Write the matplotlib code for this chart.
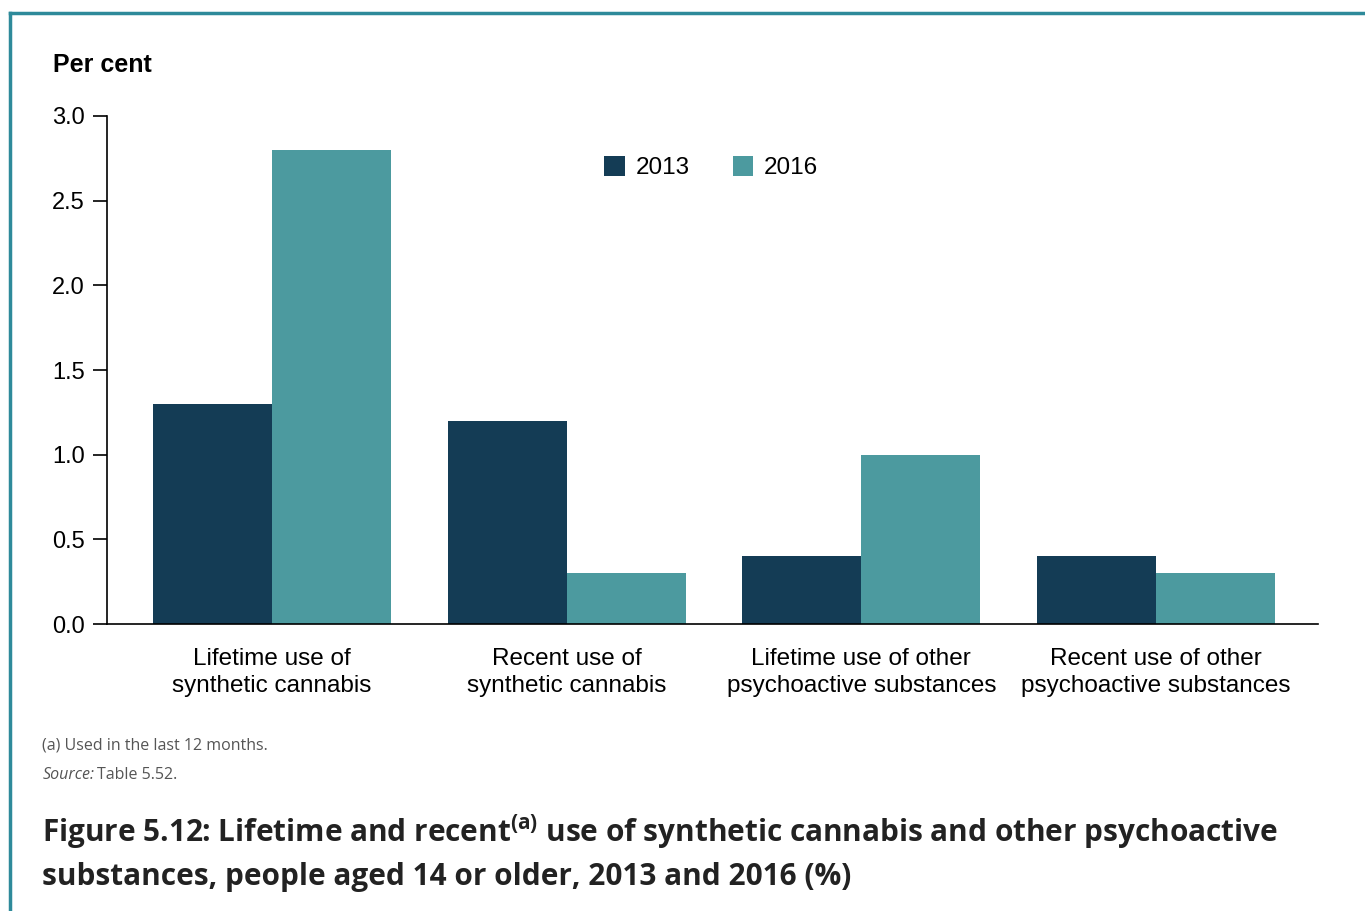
import numpy as np
import matplotlib.pyplot as plt

categories = ['Lifetime use of\nsynthetic cannabis', 'Recent use of\nsynthetic cannabis',
              'Lifetime use of other\npsychoactive substances', 'Recent use of other\npsychoactive substances']
years = ['2013', '2016']
values_2013 = [1.3, 1.2, 0.4, 0.4]
values_2016 = [2.8, 0.3, 1.0, 0.3]
yticks = [0.0, 0.5, 1.0, 1.5, 2.0, 2.5, 3.0]

dark = '#143C55'
teal = '#4C9A9F'

plt.rcParams['font.family'] = ['Liberation Sans', 'DejaVu Sans']

fig = plt.figure(figsize=(13.65, 9.11), dpi=100)
ax = fig.add_axes([0.0784, 0.315, 0.8872, 0.5577])

x = np.arange(len(categories))
w = 0.404
ax.bar(x - w / 2, values_2013, w, color=dark, label=years[0])
ax.bar(x + w / 2, values_2016, w, color=teal, label=years[1])

ax.set_xlim(-0.56, 3.55)
ax.set_ylim(0, 3.0)
ax.set_yticks(yticks)
ax.set_yticklabels(['%.1f' % v for v in yticks], fontsize=17)
ax.set_xticks(x)
ax.set_xticklabels(categories, fontsize=17.5, linespacing=1.3)
ax.tick_params(axis='x', length=0, pad=17)
ax.tick_params(axis='y', length=10, width=1.2, pad=6)
for s in ['top', 'right']:
    ax.spines[s].set_visible(False)
ax.spines['left'].set_linewidth(1.2)
ax.spines['bottom'].set_linewidth(1.2)

ax.legend(loc='center', bbox_to_anchor=(0.499, 0.898), ncol=2, frameon=False,
          fontsize=17.5, handlelength=0.85, handleheight=0.85, columnspacing=1.75, handletextpad=0.45)

fig.text(0.039, 0.921, 'Per cent', fontsize=18, fontweight='bold')

fig.text(0.031, 0.177, '(a) Used in the last 12 months.', fontsize=11.5, color='#555555',
         family='Open Sans')
fig.text(0.031, 0.145, 'Source:', fontsize=11.5, color='#555555', family='Open Sans', style='italic')
fig.text(0.071, 0.145, 'Table 5.52.', fontsize=11.5, color='#555555', family='Open Sans')

fig.text(0.031, 0.0285,
         'Figure 5.12: Lifetime and recent$^{\\mathregular{(a)}}$ use of synthetic cannabis and other psychoactive\n'
         'substances, people aged 14 or older, 2013 and 2016 (%)',
         fontsize=21.4, fontweight='bold', color='#222222', family='Open Sans', linespacing=1.5)

# teal frame along top and left
fig.add_artist(plt.Line2D([10 / 1365, 1], [1 - 13 / 911, 1 - 13 / 911], transform=fig.transFigure,
                          color='#2E8A9A', linewidth=2.5))
fig.add_artist(plt.Line2D([10 / 1365, 10 / 1365], [0, 1 - 13 / 911], transform=fig.transFigure,
                          color='#2E8A9A', linewidth=2.5))

fig.savefig('out.png', dpi=100)
